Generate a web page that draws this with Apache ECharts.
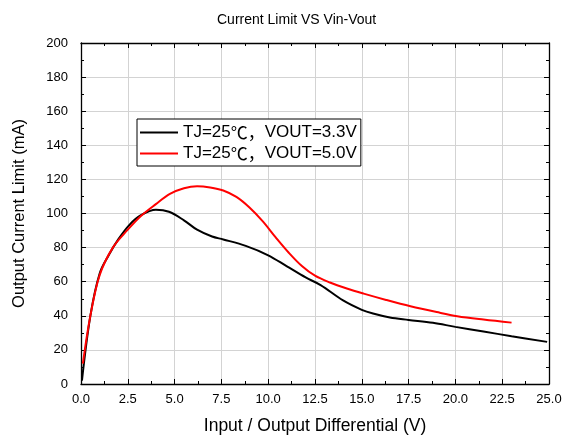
<!DOCTYPE html>
<html><head><meta charset="utf-8">
<script src="https://cdn.jsdelivr.net/npm/echarts@6/dist/echarts.min.js"></script>
<style>html,body{margin:0;padding:0;background:#fff}#c{width:568px;height:440px}</style>
</head><body><div id="c"></div>
<script>
var xTicks = [0, 2.5, 5, 7.5, 10, 12.5, 15, 17.5, 20, 22.5, 25];
var yTicks = [0, 20, 40, 60, 80, 100, 120, 140, 160, 180, 200];
var v33X = [0.05, 0.5, 1.0, 1.5, 2.0, 2.6, 3.2, 4.0, 4.7, 5.5, 6.2, 7.0, 7.6, 8.8, 10.0, 11.0, 12.0, 12.8, 14.0, 15.0, 15.6, 16.5, 17.5, 18.8, 20.0, 21.5, 23.0, 24.9];
var v33Y = [2, 40, 65, 76, 85, 93.5, 99, 102.2, 101, 96, 90.5, 86.5, 84.8, 81, 75.5, 69, 62.5, 58, 49, 43.5, 41.3, 39, 37.6, 35.9, 33.5, 30.8, 28, 24.7];
var v50X = [0.1, 0.5, 1.0, 1.7, 2.5, 3.2, 4.0, 4.75, 5.5, 6.2, 6.9, 7.6, 8.3, 9.0, 9.7, 10.4, 11.1, 11.8, 12.5, 13.3, 14.2, 15.1, 16.3, 17.6, 19.0, 20.1, 21.5, 23.0];
var v50Y = [12, 40, 64, 80, 90.5, 98.5, 105.5, 111.5, 114.8, 116, 115.3, 113.5, 109.7, 103.5, 95.5, 86, 77, 69.2, 63.5, 59.5, 56, 53, 49.3, 45.6, 42.2, 39.8, 37.8, 36];
var names = ['TJ=25℃，VOUT=3.3V', 'TJ=25℃，VOUT=5.0V'];

function pairs(xs, ys){ return xs.map(function(x,i){return [x, ys[i]];}); }
var FONT = '"Liberation Sans", Arial, sans-serif';
var CJK = '"Noto Sans CJK SC", sans-serif';
var chart = echarts.init(document.getElementById('c'), null, {renderer:'canvas'});
var baseX = {
  type:'value', min:xTicks[0], max:xTicks[xTicks.length-1], interval:2.5,
  axisLine:{show:true, onZero:false, lineStyle:{color:'#000', width:1.3}},
  axisTick:{show:true, inside:true, length:5, lineStyle:{color:'#000'}},
  minorTick:{show:true, splitNumber:2, length:3, lineStyle:{color:'#000'}},
  splitLine:{show:false}
};
var baseY = {
  type:'value', min:yTicks[0], max:yTicks[yTicks.length-1], interval:20,
  axisLine:{show:true, onZero:false, lineStyle:{color:'#000', width:1.3}},
  axisTick:{show:true, inside:true, length:5, lineStyle:{color:'#000'}},
  minorTick:{show:true, splitNumber:2, length:3, lineStyle:{color:'#000'}},
  splitLine:{show:false}
};
chart.setOption({
  animation:false,
  backgroundColor:'#fff',
  title:{text:'Current Limit VS Vin-Vout', left:212, top:8,
    textStyle:{fontFamily:FONT, fontSize:14, fontWeight:'normal', color:'#000'}},
  grid:{left:81, right:19, top:43, bottom:52},
  legend:{
    orient:'vertical', left:137, top:119, padding:[5,4,4,3],
    borderColor:'#000', borderWidth:1, backgroundColor:'#fff',
    itemWidth:38, itemHeight:2, itemGap:4, icon:'rect',
    formatter:function(n){
      var i = n.indexOf('℃');
      return '{a|' + n.slice(0,i) + '}{c|' + n.slice(i,i+2) + '}{a|' + n.slice(i+2) + '}';
    },
    textStyle:{fontFamily:FONT, fontSize:17, color:'#000',
      rich:{a:{fontFamily:FONT, fontSize:17, color:'#000'},
            c:{fontFamily:CJK, fontSize:17, color:'#000'}}},
    data:names
  },
  xAxis:[
    Object.assign({}, baseX, {position:'bottom',
      name:'Input / Output Differential (V)', nameLocation:'middle', nameGap:33,
      nameTextStyle:{fontFamily:FONT, fontSize:17.5, color:'#000'},
      axisLabel:{show:true, margin:9, fontFamily:FONT, fontSize:13, color:'#000',
        formatter:function(v){return v.toFixed(1);}},
      splitLine:{show:true, lineStyle:{color:'#d3d3d3', width:1}}}),
    Object.assign({}, baseX, {position:'top', axisLabel:{show:false}})
  ],
  yAxis:[
    Object.assign({}, baseY, {position:'left',
      name:'Output Current Limit (mA)', nameLocation:'middle', nameGap:53,
      nameTextStyle:{fontFamily:FONT, fontSize:16.5, color:'#000'},
      axisLabel:{show:true, margin:13, fontFamily:FONT, fontSize:13, color:'#000'},
      splitLine:{show:true, lineStyle:{color:'#d3d3d3', width:1}}}),
    Object.assign({}, baseY, {position:'right', axisLabel:{show:false}})
  ],
  series:[
    {name:names[0], type:'line', data:pairs(v33X, v33Y), smooth:0.35, showSymbol:false,
      lineStyle:{color:'#000', width:2}, itemStyle:{color:'#000'}},
    {name:names[1], type:'line', data:pairs(v50X, v50Y), smooth:0.35, showSymbol:false,
      lineStyle:{color:'#ff0000', width:2}, itemStyle:{color:'#ff0000'}}
  ]
});
</script></body></html>
